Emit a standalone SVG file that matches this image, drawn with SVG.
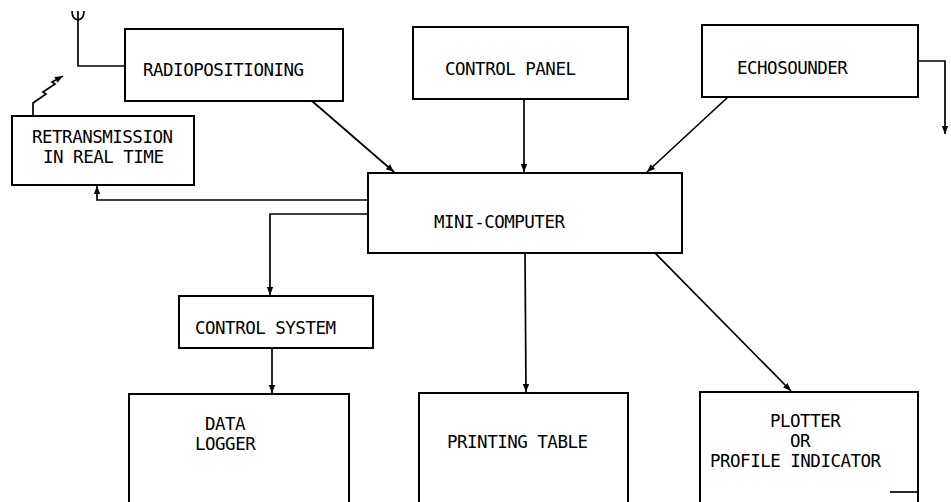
<svg xmlns="http://www.w3.org/2000/svg" width="951" height="502" viewBox="0 0 951 502">
  <style>
    .box { fill: #fff; stroke: #000; stroke-width: 2; }
    .ln { fill: none; stroke: #000; stroke-width: 1.7; }
    .lbl { font-family: "DejaVu Sans Mono", "Liberation Mono", monospace; font-size: 17.5px; letter-spacing: -0.5px; fill: #000; }
  </style>
  <defs>
    <marker id="arr" viewBox="0 0 10 10" refX="10" refY="5" markerWidth="9" markerHeight="8" orient="auto" markerUnits="userSpaceOnUse">
      <path d="M0,1 L10,5 L0,9 Z" fill="#000"/>
    </marker>
  </defs>
  <rect width="951" height="502" fill="#fff"/>

  <!-- connectors -->
  <g id="connectors">
    <!-- antenna feeding radiopositioning -->
    <path class="ln" d="M78,11 V66 H125"/>
    <path class="ln" d="M72,11 Q72,19 78,20 Q84,19 84,11"/>
    <!-- radio link out of retransmission -->
    <path class="ln" d="M33,116 V103 L46,94 L43,92 L55,84 L52,82 L63,76" marker-end="url(#arr)"/>
    <!-- inputs to mini-computer -->
    <line class="ln" x1="312" y1="101" x2="394" y2="172" marker-end="url(#arr)"/>
    <line class="ln" x1="524" y1="99" x2="524" y2="172" marker-end="url(#arr)"/>
    <line class="ln" x1="728" y1="97" x2="647" y2="172" marker-end="url(#arr)"/>
    <!-- echosounder side output -->
    <path class="ln" d="M918,61 H945 V134" marker-end="url(#arr)"/>
    <!-- mini-computer to retransmission -->
    <path class="ln" d="M368,200 H97 V186" marker-end="url(#arr)"/>
    <!-- mini-computer to control system -->
    <path class="ln" d="M368,214 H270 V295" marker-end="url(#arr)"/>
    <!-- control system to data logger -->
    <line class="ln" x1="272" y1="348" x2="272" y2="393" marker-end="url(#arr)"/>
    <!-- mini-computer to printing table -->
    <line class="ln" x1="525" y1="253" x2="526" y2="392" marker-end="url(#arr)"/>
    <!-- mini-computer to plotter -->
    <line class="ln" x1="655" y1="253" x2="791" y2="391" marker-end="url(#arr)"/>
  </g>

  <g id="radiopositioning">
    <rect class="box" x="125" y="29" width="218" height="72"/>
    <text class="lbl" x="143" y="76">RADIOPOSITIONING</text>
  </g>

  <g id="control-panel">
    <rect class="box" x="413" y="27" width="215" height="72"/>
    <text class="lbl" x="445" y="75">CONTROL PANEL</text>
  </g>

  <g id="echosounder">
    <rect class="box" x="702" y="25" width="216" height="72"/>
    <text class="lbl" x="737" y="74">ECHOSOUNDER</text>
  </g>

  <g id="retransmission">
    <rect class="box" x="12" y="116" width="182" height="69"/>
    <text class="lbl" x="32" y="143">RETRANSMISSION</text>
    <text class="lbl" x="43" y="163">IN REAL TIME</text>
  </g>

  <g id="mini-computer">
    <rect class="box" x="368" y="173" width="314" height="80"/>
    <text class="lbl" x="434" y="228">MINI-COMPUTER</text>
  </g>

  <g id="control-system">
    <rect class="box" x="179" y="296" width="194" height="52"/>
    <text class="lbl" x="195" y="334">CONTROL SYSTEM</text>
  </g>

  <g id="data-logger">
    <path class="box" d="M129,505 V394 H349 V505"/>
    <text class="lbl" x="205" y="430">DATA</text>
    <text class="lbl" x="195" y="450">LOGGER</text>
  </g>

  <g id="printing-table">
    <path class="box" d="M419,505 V393 H628 V505"/>
    <text class="lbl" x="447" y="448">PRINTING TABLE</text>
  </g>

  <g id="plotter">
    <path class="box" d="M700,505 V392 H918 V505"/>
    <line class="ln" x1="890" y1="492" x2="918" y2="492"/>
    <text class="lbl" x="770" y="427">PLOTTER</text>
    <text class="lbl" x="790" y="447">OR</text>
    <text class="lbl" x="710" y="467">PROFILE INDICATOR</text>
  </g>
</svg>
